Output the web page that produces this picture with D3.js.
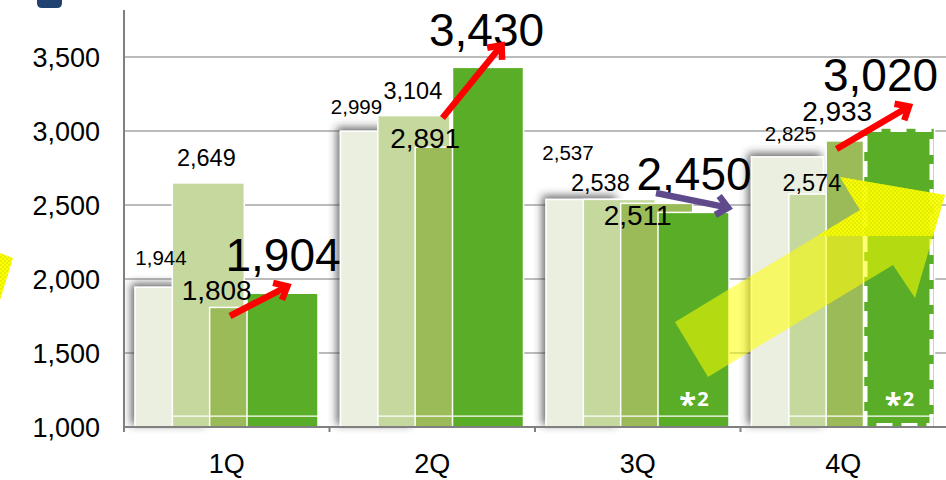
<!DOCTYPE html>
<html>
<head>
<meta charset="utf-8">
<script src="https://cdn.jsdelivr.net/npm/d3@7"></script>
<style>
  body { margin: 0; background: #fff; }
  text { font-family: "Liberation Sans", Arial, sans-serif; }
</style>
</head>
<body>
<svg width="946" height="480"></svg>
<script>
// Data
const quarters = ["1Q", "2Q", "3Q", "4Q"];
const series1 = [1944, 2999, 2537, 2825];
const series2 = [2649, 3104, 2538, 2574];
const series3 = [1808, 2891, 2511, 2933];
const series4 = [1904, 3430, 2450, 3020];
const yTicks = [1000, 1500, 2000, 2500, 3000, 3500];
const notes = ["", "", "*2", "*2"];
const forecast = [false, false, false, true];

// label nudges from each bar's top centre [dx, dy], per series then quarter
const labelNudge = [
  [[-10, -22], [-20, -17], [-14, -40], [3, -16]],
  [[-2, -17], [-1, -17], [-19, -8], [-13, -3]],
  [[-29, -7], [-26, 1], [-19, 22], [-25, -20]],
  [[0, -22], [-2, -21], [0, -22], [-19, -37]]
];

// change arrows, in value space (x offset from band start)
const arrows = [
  { q: "1Q", x0: 106, v0: 1750, x1: 166, v1: 1960, color: "#ff0000" },
  { q: "2Q", x0: 113, v0: 3088, x1: 174, v1: 3595, color: "#ff0000" },
  { q: "3Q", x0: 121, v0: 2581, x1: 196, v1: 2478, color: "#5f4b8b" },
  { q: "4Q", x0: 96, v0: 2878, x1: 171, v1: 3176, color: "#ff0000" }
];

const allSeries = [series1, series2, series3, series4];
const colors = ["#ebefdf", "#c5d89d", "#9bbb59", "#5aad26"];
const labelSizes = [20.5, 23.5, 28, 46];

const svg = d3.select("svg");

const y = d3.scaleLinear().domain([1000, 3500]).range([427, 57]);
const x = d3.scaleBand().domain(quarters).range([124, 946]);
const barOffset = d3.scaleLinear().domain([0, 3]).range([11, 123]);
const barW = 72;

// shadow for the back bars
const defs = svg.append("defs");
const f = defs.append("filter").attr("id", "shadow")
  .attr("x", "-30%").attr("y", "-20%").attr("width", "160%").attr("height", "140%");
f.append("feDropShadow").attr("dx", -3).attr("dy", -3).attr("stdDeviation", 4)
  .attr("flood-color", "#333").attr("flood-opacity", 0.75);

// hatch pattern for the bright part of the yellow arrow
const pat = defs.append("pattern").attr("id", "hatch")
  .attr("width", 4).attr("height", 4).attr("patternUnits", "userSpaceOnUse");
pat.append("rect").attr("width", 4).attr("height", 4).attr("fill", "#ffff00");
pat.append("rect").attr("width", 2).attr("height", 2).attr("fill", "#e6f000");
pat.append("rect").attr("x", 2).attr("y", 2).attr("width", 2).attr("height", 2).attr("fill", "#e6f000");

// gridlines
svg.append("g")
  .selectAll("line")
  .data(yTicks.slice(1))
  .join("line")
  .attr("x1", 124).attr("x2", 946)
  .attr("y1", d => y(d)).attr("y2", d => y(d))
  .attr("stroke", "#a6a6a6").attr("stroke-width", 1.5);

// y axis labels
svg.append("g")
  .selectAll("text")
  .data(yTicks)
  .join("text")
  .attr("x", 100).attr("y", d => y(d)).attr("dy", "0.36em")
  .attr("text-anchor", "end")
  .style("font-size", "27px")
  .text(d => d3.format(",")(d));

// bars, back to front
allSeries.forEach((vals, s) => {
  svg.append("g")
    .attr("filter", s === 0 ? "url(#shadow)" : null)
    .selectAll("rect")
    .data(vals)
    .join("rect")
    .attr("x", (d, i) => x(quarters[i]) + barOffset(s))
    .attr("y", d => y(d))
    .attr("width", barW - (s === 3 ? 1 : 0))
    .attr("height", d => y(1000) - y(d))
    .attr("fill", colors[s])
    .attr("stroke", "#fff")
    .attr("stroke-width", 1.5);
});

// dashed outline on forecast bar
svg.append("g")
  .selectAll("rect")
  .data(series4.filter((d, i) => forecast[i]).map(d => [d, series4.indexOf(d)]))
  .join("rect")
  .attr("x", d => x(quarters[d[1]]) + barOffset(3) + 2)
  .attr("y", d => y(d[0]) + 2)
  .attr("width", barW - 6)
  .attr("height", d => y(1000) - y(d[0]) - 4)
  .attr("fill", "none")
  .attr("stroke", "#fff")
  .attr("stroke-width", 4)
  .attr("stroke-dasharray", "16 9");

// thin white line near the base of each group
svg.append("g")
  .selectAll("line")
  .data(quarters)
  .join("line")
  .attr("x1", d => x(d) + barOffset(1))
  .attr("x2", d => x(d) + barOffset(3) + barW - 1)
  .attr("y1", y(1074)).attr("y2", y(1074))
  .attr("stroke", "#fff").attr("stroke-width", 1.2);

// x axis
svg.append("line")
  .attr("x1", 124).attr("x2", 946).attr("y1", y(1000)).attr("y2", y(1000))
  .attr("stroke", "#808080").attr("stroke-width", 2);
svg.append("line")
  .attr("x1", 124).attr("x2", 124).attr("y1", 10).attr("y2", y(1000) + 5)
  .attr("stroke", "#808080").attr("stroke-width", 2);
svg.append("g")
  .selectAll("line")
  .data(quarters)
  .join("line")
  .attr("x1", d => x(d)).attr("x2", d => x(d))
  .attr("y1", y(1000)).attr("y2", y(1000) + 5)
  .attr("stroke", "#808080").attr("stroke-width", 2);

svg.append("g")
  .selectAll("text")
  .data(quarters)
  .join("text")
  .attr("x", d => x(d) + x.bandwidth() / 2)
  .attr("y", 473)
  .attr("text-anchor", "middle")
  .style("font-size", "27px")
  .text(d => d);

// notes on bars
svg.append("g")
  .selectAll("text")
  .data(notes)
  .join("text")
  .attr("x", (d, i) => x(quarters[i]) + barOffset(3) + barW / 2)
  .attr("y", 406)
  .attr("text-anchor", "middle")
  .attr("fill", "#fff")
  .style("font-family", "'Noto Sans', sans-serif")
  .style("font-weight", "bold")
  .style("font-size", "20px")
  .each(function (d) {
    if (!d) return;
    const t = d3.select(this);
    t.append("tspan").attr("dy", 9).style("font-size", "31px").text(d[0]);
    t.append("tspan").attr("dy", -9).attr("dx", 1).text(d.slice(1));
  });

// yellow block arrows (decoration)
const bigArrow = [[675, 322], [860, 210], [840, 177], [945, 195], [915, 298], [893, 265], [708, 377]];
defs.append("clipPath").attr("id", "arrowClip")
  .append("polygon").attr("points", bigArrow.join(" "));
svg.append("polygon")
  .attr("points", bigArrow.join(" "))
  .attr("fill", "#ffff00").attr("fill-opacity", 0.55);
svg.append("rect")
  .attr("x", 600).attr("y", 170).attr("width", 346).attr("height", 66)
  .attr("clip-path", "url(#arrowClip)")
  .attr("fill", "url(#hatch)").attr("opacity", 0.85);
svg.append("polygon")
  .attr("points", [[0, 253], [13, 258], [0, 300]].join(" "))
  .attr("fill", "url(#hatch)");

// data labels
allSeries.forEach((vals, s) => {
  svg.append("g")
    .selectAll("text")
    .data(vals)
    .join("text")
    .attr("x", (d, i) => x(quarters[i]) + barOffset(s) + barW / 2 + labelNudge[s][i][0])
    .attr("y", (d, i) => y(d) + labelNudge[s][i][1])
    .attr("text-anchor", "middle")
    .style("font-size", labelSizes[s] + "px")
    .text(d => d3.format(",")(d));
});

// change arrows
arrows.forEach(a => {
  const b = x(a.q);
  const x0 = b + a.x0, y0 = y(a.v0), x1 = b + a.x1, y1 = y(a.v1);
  const ang = Math.atan2(y1 - y0, x1 - x0);
  const len = 17, spread = 0.6;
  const g = svg.append("g")
    .attr("stroke", a.color).attr("stroke-width", 6.5)
    .attr("fill", "none").attr("stroke-linecap", "butt").attr("stroke-linejoin", "miter");
  g.append("line").attr("x1", x0).attr("y1", y0).attr("x2", x1 - 3 * Math.cos(ang)).attr("y2", y1 - 3 * Math.sin(ang));
  g.append("path").attr("d", d3.line()([
    [x1 - len * Math.cos(ang - spread), y1 - len * Math.sin(ang - spread)],
    [x1 - 3 * Math.cos(ang), y1 - 3 * Math.sin(ang)],
    [x1 - len * Math.cos(ang + spread), y1 - len * Math.sin(ang + spread)]
  ]));
});

// navy tab at the top left
svg.append("path")
  .attr("d", "M37,0 H62 V3 Q62,8 57,8 H42 Q37,8 37,3 Z")
  .attr("fill", "#1f4270");
</script>
</body>
</html>
